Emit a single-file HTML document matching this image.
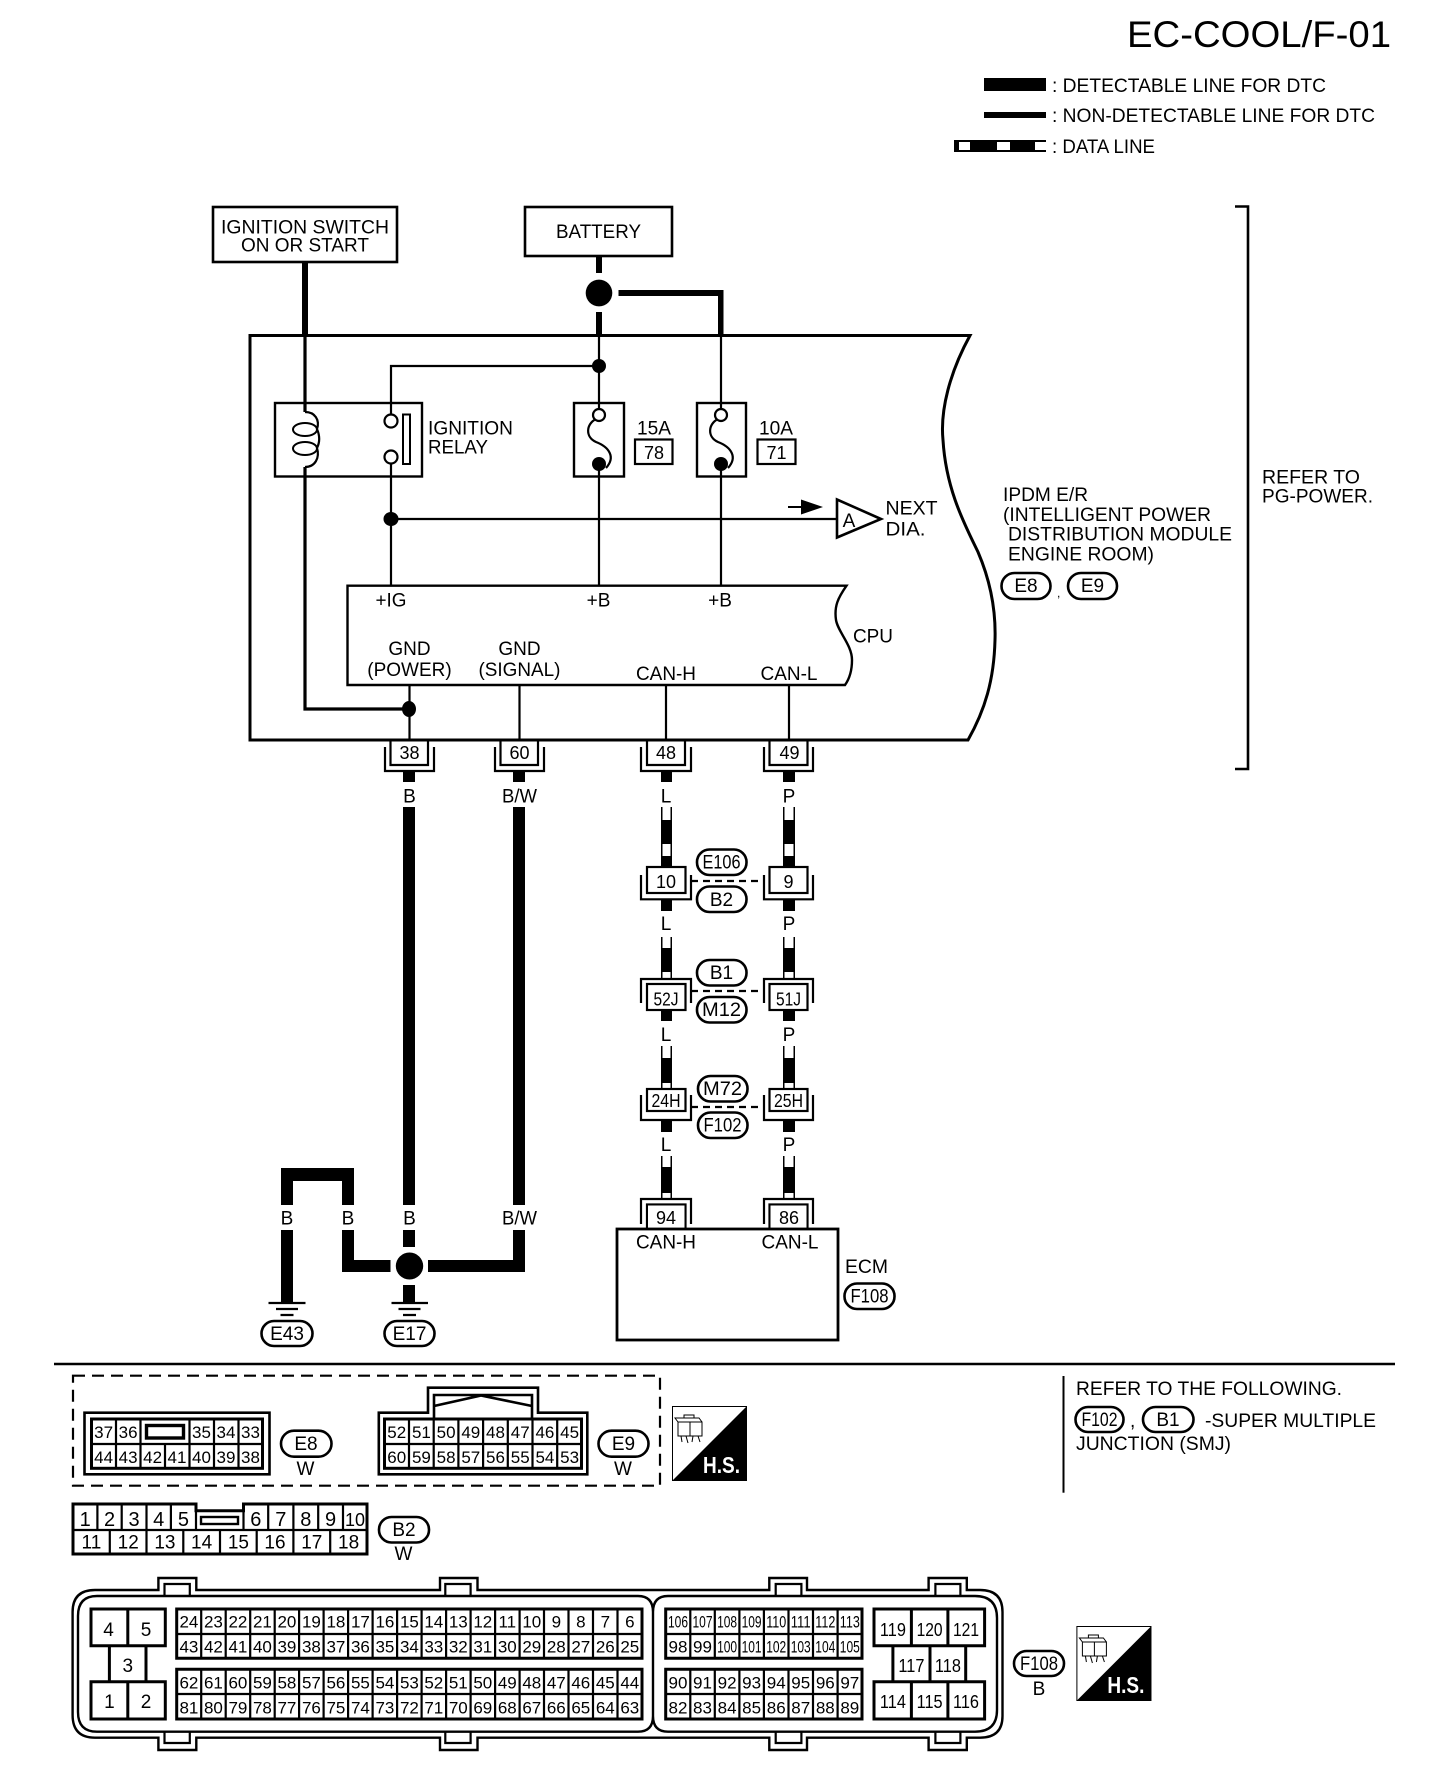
<!DOCTYPE html>
<html><head><meta charset="utf-8"><title>EC-COOL/F-01</title>
<style>
html,body{margin:0;padding:0;background:#fff}
svg{display:block}
text{font-family:"Liberation Sans",sans-serif;font-size:19px;fill:#000;stroke:none}
.m text,text.m{text-anchor:middle}
.g text{text-anchor:middle;font-size:17px}
.l{fill:none;stroke:#000;stroke-width:2.2}
.b{fill:#000;stroke:none}
.w{fill:#fff;stroke:none}
.o{fill:#fff;stroke:#000;stroke-width:2.6}
.d{fill:none;stroke:#000;stroke-width:2.2;stroke-dasharray:7 5}
.c{fill:#fff;stroke:#000;stroke-width:2.2}
</style></head><body>
<svg xmlns="http://www.w3.org/2000/svg" xmlns:xlink="http://www.w3.org/1999/xlink" width="1440" height="1784" viewBox="0 0 1440 1784">
<rect width="1440" height="1784" fill="#fff"/>
<defs>
<g id="hs">
<rect x="672.5" y="1406.5" width="74" height="74" fill="#fff" stroke="#000" stroke-width="1"/>
<path class="b" d="M747 1406V1481H672Z"/>
<path d="M678 1422h24v14h-24zM678 1422l-3-4h24l3 4M684 1418v-3h10v3M690 1422v14M681 1436l1 6M686 1436l2 7M693 1436l-1 6M698 1436l2 6" fill="none" stroke="#000" stroke-width="1"/>
<text x="703" y="1473" textLength="37" lengthAdjust="spacingAndGlyphs" style="font-size:23px;font-weight:bold;fill:#fff">H.S.</text>
</g>
</defs>

<!-- header + legend -->
<text x="1127" y="47" textLength="264" lengthAdjust="spacingAndGlyphs" style="font-size:37px">EC-COOL/F-01</text>
<rect class="b" x="984" y="78" width="62" height="13"/>
<text x="1052" y="92" textLength="274" lengthAdjust="spacingAndGlyphs">: DETECTABLE LINE FOR DTC</text>
<rect class="b" x="984" y="112" width="62" height="6"/>
<text x="1052" y="122" textLength="323" lengthAdjust="spacingAndGlyphs">: NON-DETECTABLE LINE FOR DTC</text>
<rect class="b" x="954" y="140" width="92" height="12"/>
<rect class="w" x="959" y="142" width="11" height="8"/><rect class="w" x="997" y="142" width="13" height="8"/><rect class="w" x="1035" y="142" width="11" height="8"/>
<text x="1052" y="153" textLength="103" lengthAdjust="spacingAndGlyphs">: DATA LINE</text>

<!-- top boxes -->
<rect x="213" y="207" width="184" height="55" fill="#fff" stroke="#000" stroke-width="2.6"/>
<g class="m"><text x="305" y="233.500" textLength="168" lengthAdjust="spacingAndGlyphs">IGNITION SWITCH</text><text x="305" y="251.500" textLength="128" lengthAdjust="spacingAndGlyphs">ON OR START</text></g>
<rect x="525" y="207" width="147" height="49" fill="#fff" stroke="#000" stroke-width="2.6"/>
<text class="m" x="598.500" y="238" textLength="85" lengthAdjust="spacingAndGlyphs">BATTERY</text>

<!-- IPDM module -->
<path d="M250 335.500H970C950 372 940 410 943 440C946 490 965 525 978 552C990 580 996 610 995 640C994 680 985 710 968 740H250Z" fill="#fff" stroke="#000" stroke-width="3"/>

<!-- thick top wires -->
<path class="b" d="M302 262h6v73h-6zM596 256h6v17h-6zM596 312h6v24h-6zM618.500 290H723.500V335H718V296H618.500Z"/>
<ellipse class="b" cx="599" cy="293" rx="13.300" ry="13.400"/>

<!-- thin internal -->
<path class="l" d="M391 414V366H599M599 335V409M599 470V586M721 335V409M721 470V586M391 463V586M391 519H837"/>
<path fill="none" stroke="#000" stroke-width="3.200" d="M305 335V412M305 467V709H409"/>
<ellipse class="b" cx="409" cy="709" rx="7" ry="8"/>
<circle class="b" cx="599" cy="366" r="7"/>
<ellipse class="b" cx="391" cy="519" rx="7.500" ry="7"/>

<!-- relay -->
<rect x="275" y="403" width="147" height="73.500" fill="none" stroke="#000" stroke-width="2.400"/>
<rect class="w" x="300" y="414" width="22" height="51"/>
<ellipse cx="305" cy="429.500" rx="12" ry="6.500" fill="none" stroke="#000" stroke-width="2"/>
<ellipse cx="305" cy="448.500" rx="12" ry="6.500" fill="none" stroke="#000" stroke-width="2"/>
<path fill="none" stroke="#000" stroke-width="2.200" d="M305 412C315 412 320 420 317 429C320 436 320 442 317 448C320 458 315 467 305 467"/>
<circle cx="391" cy="421" r="6.500" fill="#fff" stroke="#000" stroke-width="2.200"/>
<circle cx="391" cy="457" r="6.500" fill="#fff" stroke="#000" stroke-width="2.200"/>
<rect x="403" y="414.500" width="7" height="49.500" fill="#fff" stroke="#000" stroke-width="2"/>
<text x="428" y="434.500" textLength="85" lengthAdjust="spacingAndGlyphs">IGNITION</text>
<text x="428" y="453.500" textLength="60" lengthAdjust="spacingAndGlyphs">RELAY</text>

<!-- fuses -->
<rect x="574" y="403" width="50" height="73.500" fill="none" stroke="#000" stroke-width="2.400"/>
<rect x="697" y="403" width="49" height="73.500" fill="none" stroke="#000" stroke-width="2.400"/>
<g fill="none" stroke="#000" stroke-width="2.200">
<path d="M596 419C586 424 585 437 596 442C609 447 616 457 606 468"/>
<path d="M718 419C708 424 707 437 718 442C731 447 738 457 728 468"/>
</g>
<circle cx="599" cy="415" r="6" fill="#fff" stroke="#000" stroke-width="2.200"/>
<circle cx="721" cy="415" r="6" fill="#fff" stroke="#000" stroke-width="2.200"/>
<circle class="b" cx="599" cy="464" r="7"/>
<circle class="b" cx="721" cy="464" r="7"/>
<g class="m"><text x="654" y="434.500" textLength="34" lengthAdjust="spacingAndGlyphs">15A</text><text x="776" y="434.500" textLength="34" lengthAdjust="spacingAndGlyphs">10A</text></g>
<rect x="635" y="439.500" width="37.500" height="24.500" fill="#fff" stroke="#000" stroke-width="2.200"/>
<rect x="757.500" y="439.500" width="38" height="24.500" fill="#fff" stroke="#000" stroke-width="2.200"/>
<g class="m"><text x="654" y="459" style="font-size:18px">78</text><text x="776.500" y="459" style="font-size:18px">71</text></g>

<!-- next dia -->
<path d="M837 499.500V537.500L881 519Z" fill="#fff" stroke="#000" stroke-width="2.600"/>
<text class="m" x="849" y="527">A</text>
<path class="b" d="M788 506h13v-6.500L823 507L801 514.500V508h-13z"/>
<text x="885.500" y="514.500" textLength="52" lengthAdjust="spacingAndGlyphs">NEXT</text>
<text x="885.500" y="535.500" textLength="40" lengthAdjust="spacingAndGlyphs">DIA.</text>

<!-- IPDM text -->
<text x="1003" y="501" textLength="85" lengthAdjust="spacingAndGlyphs">IPDM E/R</text>
<text x="1003" y="521" textLength="208" lengthAdjust="spacingAndGlyphs">(INTELLIGENT POWER</text>
<text x="1008" y="540.500" textLength="224" lengthAdjust="spacingAndGlyphs">DISTRIBUTION MODULE</text>
<text x="1008" y="560.500" textLength="146" lengthAdjust="spacingAndGlyphs">ENGINE ROOM)</text>
<rect class="o" x="1001.500" y="573" width="49" height="26" rx="13"/><text class="m" x="1026" y="592">E8</text>
<text x="1057" y="597" style="font-size:12px">,</text>
<rect class="o" x="1068" y="573" width="49" height="26" rx="13"/><text class="m" x="1092.500" y="592">E9</text>

<!-- bracket -->
<path fill="none" stroke="#000" stroke-width="2.600" d="M1235 206.500H1248V769H1235"/>
<text x="1262" y="483.500" textLength="98" lengthAdjust="spacingAndGlyphs">REFER TO</text>
<text x="1262" y="502.500" textLength="111" lengthAdjust="spacingAndGlyphs">PG-POWER.</text>

<!-- CPU -->
<path d="M347.500 585.700H846.500C838 598 834 606 836 620C838 632 852 645 852 660C852 670 850 678 845 685H347.500Z" fill="#fff" stroke="#000" stroke-width="2.400"/>
<g class="m">
<text x="391" y="606.700" textLength="31" lengthAdjust="spacingAndGlyphs">+IG</text><text x="598.500" y="606.700">+B</text><text x="720" y="606.700">+B</text>
<text x="409.500" y="655">GND</text><text x="409.500" y="676">(POWER)</text>
<text x="519.500" y="655">GND</text><text x="519.500" y="676" textLength="82" lengthAdjust="spacingAndGlyphs">(SIGNAL)</text>
<text x="666" y="680" textLength="60" lengthAdjust="spacingAndGlyphs">CAN-H</text><text x="789" y="680" textLength="57" lengthAdjust="spacingAndGlyphs">CAN-L</text>
</g>
<text x="853" y="642.700" textLength="40" lengthAdjust="spacingAndGlyphs">CPU</text>
<path class="l" d="M409.500 685V740M519.500 685V740M666 685V740M789 685V740"/>

<!-- connectors at module bottom -->
<g class="l">
<path d="M390.500 740V765H428V740M385 747V771H434V747"/>
<path d="M500.500 740V765H538V740M495 747V771H544V747"/>
<path d="M647 740V765H685V740M641 747V771H691V747"/>
<path d="M769.500 740V765H807.500V740M764 747V771H813V747"/>
</g>
<g class="m">
<text x="409.500" y="759" style="font-size:18px">38</text><text x="519.500" y="759" style="font-size:18px">60</text><text x="666" y="759" style="font-size:18px">48</text><text x="789.500" y="759" style="font-size:18px">49</text>
</g>

<!-- B, B/W wires -->
<path class="b" d="M403 771h12v11h-12zM513 771h12v11h-12zM403 807h12v398h-12zM513 807h12v398h-12zM403 1230h12v17h-12zM513 1230H525V1272H428V1260H513zM342 1168H354V1205H342zM281 1168H354V1181H281zM281 1181h12v24h-12zM281 1230h12v73h-12zM342 1230H354V1260H390.500V1272H342zM403 1285h12v18h-12z"/>
<ellipse class="b" cx="409.500" cy="1266" rx="13.700" ry="13.500"/>
<g class="m">
<text x="409.500" y="802.500">B</text><text x="519.500" y="802.500" textLength="35" lengthAdjust="spacingAndGlyphs">B/W</text>
<text x="287" y="1224.500">B</text><text x="348" y="1224.500">B</text><text x="409.500" y="1224.500">B</text><text x="519.500" y="1224.500" textLength="35" lengthAdjust="spacingAndGlyphs">B/W</text>
</g>
<!-- grounds -->
<path fill="none" stroke="#000" stroke-width="2.200" d="M268.500 1303H305.500M276 1309H298M280.500 1315H293.500M391.500 1303H428M398.500 1309H420.500M403 1315H416"/>
<rect class="o" x="261.500" y="1321" width="51" height="25" rx="12.500"/><text class="m" x="287" y="1340">E43</text>
<rect class="o" x="384.500" y="1321" width="50" height="25" rx="12.500"/><text class="m" x="409.500" y="1340">E17</text>

<!-- CAN data wires -->
<g class="b">
<rect x="661" y="771" width="11" height="11"/><rect x="783" y="771" width="12" height="11"/>
<rect x="661" y="807" width="11" height="60"/><rect x="783" y="807" width="12" height="60"/>
<rect x="661" y="899" width="11" height="12"/><rect x="783" y="899" width="12" height="12"/>
<rect x="661" y="937" width="11" height="42"/><rect x="783" y="937" width="12" height="42"/>
<rect x="661" y="1010" width="11" height="11"/><rect x="783" y="1010" width="12" height="11"/>
<rect x="661" y="1046" width="11" height="43"/><rect x="783" y="1046" width="12" height="43"/>
<rect x="661" y="1120" width="11" height="12"/><rect x="783" y="1120" width="12" height="12"/>
<rect x="661" y="1156" width="11" height="43"/><rect x="783" y="1156" width="12" height="43"/>
</g>
<g class="w">
<rect x="662.500" y="807" width="8" height="13"/><rect x="784.500" y="807" width="9" height="13"/>
<rect x="662.500" y="844" width="8" height="12"/><rect x="784.500" y="844" width="9" height="12"/>
<rect x="662.500" y="937" width="8" height="11"/><rect x="784.500" y="937" width="9" height="11"/>
<rect x="662.500" y="972" width="8" height="7"/><rect x="784.500" y="972" width="9" height="7"/>
<rect x="662.500" y="1046" width="8" height="12"/><rect x="784.500" y="1046" width="9" height="12"/>
<rect x="662.500" y="1083" width="8" height="6"/><rect x="784.500" y="1083" width="9" height="6"/>
<rect x="662.500" y="1156" width="8" height="11"/><rect x="784.500" y="1156" width="9" height="11"/>
<rect x="662.500" y="1193" width="8" height="6"/><rect x="784.500" y="1193" width="9" height="6"/>
</g>
<g class="m">
<text x="666" y="802.500">L</text><text x="789" y="802.500">P</text>
<text x="666" y="930">L</text><text x="789" y="930">P</text>
<text x="666" y="1041">L</text><text x="789" y="1041">P</text>
<text x="666" y="1151">L</text><text x="789" y="1151">P</text>
</g>

<!-- in-line connectors row 1 -->
<path class="l" d="M641 875V899.300H691V875M764 875V899.300H813V875"/>
<rect class="c" x="647" y="867" width="38.500" height="26"/><rect class="c" x="769.500" y="867" width="38" height="26"/>
<text class="m" x="666" y="888" style="font-size:18px">10</text><text class="m" x="788.500" y="888" style="font-size:18px">9</text>
<path class="d" d="M691 881H764"/>
<rect class="o" x="697" y="849.500" width="49.500" height="25.500" rx="12.500"/><text class="m" x="721.500" y="868.500" textLength="38" lengthAdjust="spacingAndGlyphs">E106</text>
<rect class="o" x="697" y="886.500" width="49.500" height="25.500" rx="12.500"/><text class="m" x="721.500" y="906">B2</text>

<!-- row 2 -->
<path class="l" d="M641 1003V979H691V1003M764 1003V979H813V1003"/>
<rect class="c" x="647" y="984" width="38.500" height="26"/><rect class="c" x="769.500" y="984" width="38" height="26"/>
<text class="m" x="666" y="1005.500" textLength="25" lengthAdjust="spacingAndGlyphs" style="font-size:18px">52J</text><text class="m" x="788.500" y="1005.500" textLength="25" lengthAdjust="spacingAndGlyphs" style="font-size:18px">51J</text>
<path class="d" d="M691 991H764"/>
<rect class="o" x="697" y="960" width="49.500" height="25.500" rx="12.500"/><text class="m" x="721.500" y="979">B1</text>
<rect class="o" x="697" y="997" width="49.500" height="25.500" rx="12.500"/><text class="m" x="721.500" y="1016" textLength="39" lengthAdjust="spacingAndGlyphs">M12</text>

<!-- row 3 -->
<path class="l" d="M641 1095V1120H691V1095M764 1095V1120H813V1095"/>
<rect class="c" x="647" y="1089" width="38.500" height="22"/><rect class="c" x="769.500" y="1089" width="38" height="22"/>
<text class="m" x="666" y="1107" textLength="29" lengthAdjust="spacingAndGlyphs" style="font-size:18px">24H</text><text class="m" x="788.500" y="1107" textLength="29" lengthAdjust="spacingAndGlyphs" style="font-size:18px">25H</text>
<path class="d" d="M691 1107H764"/>
<rect class="o" x="698" y="1076" width="49.500" height="25.500" rx="12.500"/><text class="m" x="722.500" y="1095" textLength="39" lengthAdjust="spacingAndGlyphs">M72</text>
<rect class="o" x="698" y="1112.500" width="49.500" height="25.500" rx="12.500"/><text class="m" x="722.500" y="1131.500" textLength="38" lengthAdjust="spacingAndGlyphs">F102</text>

<!-- ECM -->
<path class="l" d="M641 1224V1199H691V1224M764 1224V1199H813V1224M647 1229V1204.500H685.500V1229M769.500 1229V1204.500H807.500V1229"/>
<rect class="w" x="648" y="1205.500" width="36.500" height="23"/><rect class="w" x="770.500" y="1205.500" width="36" height="23"/>
<text class="m" x="666" y="1224" style="font-size:18px">94</text><text class="m" x="789" y="1224" style="font-size:18px">86</text>
<rect x="617" y="1229" width="221" height="111" fill="#fff" stroke="#000" stroke-width="2.800"/>
<g class="m"><text x="666" y="1248.500" textLength="60" lengthAdjust="spacingAndGlyphs">CAN-H</text><text x="790" y="1248.500" textLength="57" lengthAdjust="spacingAndGlyphs">CAN-L</text></g>
<text x="845" y="1273" textLength="43" lengthAdjust="spacingAndGlyphs">ECM</text>
<rect class="o" x="844.500" y="1283.500" width="50" height="25.500" rx="12.500"/><text class="m" x="869.500" y="1302.500" textLength="38" lengthAdjust="spacingAndGlyphs">F108</text>

<!-- separator -->
<path stroke="#000" stroke-width="2.400" fill="none" d="M54 1364H1395"/>
<rect x="73" y="1375.700" width="587" height="110" fill="none" stroke="#000" stroke-width="2.200" stroke-dasharray="12 7"/>

<!-- E8 -->
<rect x="84.500" y="1412.700" width="185" height="61.600" fill="#fff" stroke="#000" stroke-width="2.600"/>
<rect x="91.500" y="1419" width="171" height="49.300" fill="#fff" stroke="#000" stroke-width="3"/>
<path class="l" d="M91.500 1444H262.500M116 1419V1468M140.500 1419V1468M165 1444V1468M189.500 1419V1468M214 1419V1468M238.500 1419V1468"/>
<rect x="146.500" y="1425.500" width="37" height="12.500" fill="#fff" stroke="#000" stroke-width="3.400"/>
<g class="g" transform="translate(0,1438)"><text x="103.600">37</text><text x="128.100">36</text><text x="201.500">35</text><text x="226">34</text><text x="250.500">33</text></g>
<g class="g" transform="translate(0,1463)"><text x="103.600">44</text><text x="128.100">43</text><text x="152.600">42</text><text x="177">41</text><text x="201.500">40</text><text x="226">39</text><text x="250.500">38</text></g>
<rect class="o" x="281" y="1430.700" width="50.500" height="26" rx="13"/><text class="m" x="306" y="1450">E8</text>
<text class="m" x="305.500" y="1475">W</text>

<!-- E9 -->
<path d="M378.800 1412.700H428V1387.700H538V1412.700H587.300V1474.300H378.800Z" fill="#fff" stroke="#000" stroke-width="2.600"/>
<path fill="none" stroke="#000" stroke-width="2.600" d="M434 1419V1395H532V1419M434 1406L481 1395.500L532 1406"/>
<rect x="384.500" y="1419" width="197" height="49.300" fill="#fff" stroke="#000" stroke-width="3"/>
<path class="l" d="M384.500 1444H581.500M409 1419V1468M433.700 1419V1468M458.400 1419V1468M483.100 1419V1468M507.800 1419V1468M532.500 1419V1468M557.200 1419V1468"/>
<g class="g" transform="translate(0,1438)"><text x="396.700">52</text><text x="421.400">51</text><text x="446.100">50</text><text x="470.800">49</text><text x="495.500">48</text><text x="520.200">47</text><text x="544.900">46</text><text x="569.600">45</text></g>
<g class="g" transform="translate(0,1463)"><text x="396.700">60</text><text x="421.400">59</text><text x="446.100">58</text><text x="470.800">57</text><text x="495.500">56</text><text x="520.200">55</text><text x="544.900">54</text><text x="569.600">53</text></g>
<rect class="o" x="598.500" y="1430.700" width="50" height="26" rx="13"/><text class="m" x="623.500" y="1450">E9</text>
<text class="m" x="623" y="1475">W</text>
<use xlink:href="#hs" href="#hs"/>

<!-- right note -->
<path fill="none" stroke="#000" stroke-width="2" d="M1063.500 1376V1492.700"/>
<text x="1076" y="1395" textLength="266" lengthAdjust="spacingAndGlyphs">REFER TO THE FOLLOWING.</text>
<rect class="o" x="1075.500" y="1407" width="48" height="25" rx="12.500"/><text class="m" x="1099.500" y="1426" textLength="36" lengthAdjust="spacingAndGlyphs">F102</text>
<text x="1130" y="1427">,</text>
<rect class="o" x="1143" y="1407" width="50.500" height="25" rx="12.500"/><text class="m" x="1168" y="1426">B1</text>
<text x="1205" y="1427" textLength="171" lengthAdjust="spacingAndGlyphs">-SUPER MULTIPLE</text>
<text x="1076" y="1450" textLength="155" lengthAdjust="spacingAndGlyphs">JUNCTION (SMJ)</text>

<!-- B2 -->
<path d="M73 1504H196V1510.700H243.500V1504H367V1554H73Z" fill="#fff" stroke="#000" stroke-width="3"/>
<path class="l" d="M73 1530H367M97.400 1504V1530M121.700 1504V1530M146.500 1504V1530M170.900 1504V1530M196 1504V1530M243.500 1504V1530M268.200 1504V1530M293.400 1504V1530M318.200 1504V1530M343 1504V1530M109.800 1530V1554M146.500 1530V1554M183.300 1530V1554M220 1530V1554M256.700 1530V1554M293.400 1530V1554M330.200 1530V1554"/>
<rect x="201" y="1517" width="37" height="7" fill="#fff" stroke="#000" stroke-width="2.400"/>
<g class="m" transform="translate(0,1526)"><text x="85.200" style="font-size:20px">1</text><text x="109.500" style="font-size:20px">2</text><text x="134" style="font-size:20px">3</text><text x="158.700" style="font-size:20px">4</text><text x="183.400" style="font-size:20px">5</text><text x="255.800" style="font-size:20px">6</text><text x="280.800" style="font-size:20px">7</text><text x="305.800" style="font-size:20px">8</text><text x="330.600" style="font-size:20px">9</text><text x="355" style="font-size:18px">10</text></g>
<g class="m" transform="translate(0,1548.500)"><text x="91.400">11</text><text x="128.200">12</text><text x="164.900">13</text><text x="201.600">14</text><text x="238.400">15</text><text x="275">16</text><text x="311.800">17</text><text x="348.600">18</text></g>
<rect class="o" x="379" y="1517" width="50" height="25.500" rx="12.500"/><text class="m" x="404" y="1536">B2</text>
<text class="m" x="403.500" y="1560">W</text>

<!-- ECM connector -->
<path d="M95 1590H158.400V1578H196.300V1590H440V1578H477.500V1590H769.300V1578H807V1590H928.600V1578H966.800V1590H980Q1002.500 1590 1002.500 1612V1716Q1002.500 1737.700 980 1737.700H966.800V1750H928.600V1737.700H807V1750H769.300V1737.700H477.500V1750H440V1737.700H196.300V1750H158.400V1737.700H95Q72.600 1737.700 72.600 1715V1612Q72.600 1590 95 1590Z" fill="#fff" stroke="#000" stroke-width="2.400"/>
<path fill="none" stroke="#000" stroke-width="2.400" d="M97 1596H638Q653 1596 653 1612V1716Q653 1731.700 638 1731.700H97Q78 1731.700 78 1712V1616Q78 1596 97 1596ZM668 1596H975Q997 1596 997 1618V1710Q997 1731.700 975 1731.700H668Q653 1731.700 653 1716V1612Q653 1596 668 1596Z"/>
<path fill="none" stroke="#000" stroke-width="2.200" d="M164.500 1596V1584H189.800V1596M445.300 1596V1584H470.600V1596M775.700 1596V1584H801.400V1596M935.400 1596V1584H960.400V1596M164.500 1731.700V1743H189.800V1731.700M445.300 1731.700V1743H470.600V1731.700M775.700 1731.700V1743H801.400V1731.700M935.400 1731.700V1743H960.400V1731.700"/>

<!-- left blocks -->
<path fill="none" stroke="#000" stroke-width="3" d="M91 1609H165.300V1645.700H91ZM127.800 1609V1645.700M109.400 1645.700V1681.700M146 1645.700V1681.700M91 1681.700H165.300V1719H91ZM127.800 1681.700V1719"/>
<g class="m"><text x="108.600" y="1636">4</text><text x="146" y="1636">5</text><text x="127.800" y="1672">3</text><text x="109.400" y="1708">1</text><text x="146" y="1708">2</text></g>

<!-- grid A -->
<path fill="none" stroke="#000" stroke-width="3" d="M176.700 1609H642V1658.300H176.700ZM176.700 1669.300H642V1719H176.700Z"/>
<path class="l" d="M176.700 1634H642M176.700 1694H642M201.200 1609V1658M225.700 1609V1658M250.200 1609V1658M274.700 1609V1658M299.100 1609V1658M323.600 1609V1658M348.100 1609V1658M372.600 1609V1658M397.100 1609V1658M421.600 1609V1658M446.100 1609V1658M470.600 1609V1658M495.100 1609V1658M519.600 1609V1658M544 1609V1658M568.500 1609V1658M593 1609V1658M617.500 1609V1658M201.200 1669V1719M225.700 1669V1719M250.200 1669V1719M274.700 1669V1719M299.100 1669V1719M323.600 1669V1719M348.100 1669V1719M372.600 1669V1719M397.100 1669V1719M421.600 1669V1719M446.100 1669V1719M470.600 1669V1719M495.100 1669V1719M519.600 1669V1719M544 1669V1719M568.500 1669V1719M593 1669V1719M617.500 1669V1719"/>
<g class="g" transform="translate(0,1627.500)"><text x="188.900">24</text><text x="213.400">23</text><text x="237.900">22</text><text x="262.400">21</text><text x="286.900">20</text><text x="311.400">19</text><text x="335.900">18</text><text x="360.400">17</text><text x="384.900">16</text><text x="409.400">15</text><text x="433.800">14</text><text x="458.300">13</text><text x="482.800">12</text><text x="507.300">11</text><text x="531.800">10</text><text x="556.300">9</text><text x="580.800">8</text><text x="605.300">7</text><text x="629.800">6</text></g>
<g class="g" transform="translate(0,1652.500)"><text x="188.900">43</text><text x="213.400">42</text><text x="237.900">41</text><text x="262.400">40</text><text x="286.900">39</text><text x="311.400">38</text><text x="335.900">37</text><text x="360.400">36</text><text x="384.900">35</text><text x="409.400">34</text><text x="433.800">33</text><text x="458.300">32</text><text x="482.800">31</text><text x="507.300">30</text><text x="531.800">29</text><text x="556.300">28</text><text x="580.800">27</text><text x="605.300">26</text><text x="629.800">25</text></g>
<g class="g" transform="translate(0,1688.500)"><text x="188.900">62</text><text x="213.400">61</text><text x="237.900">60</text><text x="262.400">59</text><text x="286.900">58</text><text x="311.400">57</text><text x="335.900">56</text><text x="360.400">55</text><text x="384.900">54</text><text x="409.400">53</text><text x="433.800">52</text><text x="458.300">51</text><text x="482.800">50</text><text x="507.300">49</text><text x="531.800">48</text><text x="556.300">47</text><text x="580.800">46</text><text x="605.300">45</text><text x="629.800">44</text></g>
<g class="g" transform="translate(0,1713.500)"><text x="188.900">81</text><text x="213.400">80</text><text x="237.900">79</text><text x="262.400">78</text><text x="286.900">77</text><text x="311.400">76</text><text x="335.900">75</text><text x="360.400">74</text><text x="384.900">73</text><text x="409.400">72</text><text x="433.800">71</text><text x="458.300">70</text><text x="482.800">69</text><text x="507.300">68</text><text x="531.800">67</text><text x="556.300">66</text><text x="580.800">65</text><text x="605.300">64</text><text x="629.800">63</text></g>

<!-- grid B -->
<path fill="none" stroke="#000" stroke-width="3" d="M665.700 1609H862V1658.300H665.700ZM665.700 1669.300H862V1719H665.700Z"/>
<path class="l" d="M665.700 1634H862M665.700 1694H862M690.300 1609V1658M714.800 1609V1658M739.400 1609V1658M763.900 1609V1658M788.500 1609V1658M813 1609V1658M837.600 1609V1658M690.300 1669V1719M714.800 1669V1719M739.400 1669V1719M763.900 1669V1719M788.500 1669V1719M813 1669V1719M837.600 1669V1719"/>
<g class="g" transform="translate(0,1627.500)"><text x="678" textLength="20" lengthAdjust="spacingAndGlyphs">106</text><text x="702.500" textLength="20" lengthAdjust="spacingAndGlyphs">107</text><text x="727.100" textLength="20" lengthAdjust="spacingAndGlyphs">108</text><text x="751.600" textLength="20" lengthAdjust="spacingAndGlyphs">109</text><text x="776.200" textLength="20" lengthAdjust="spacingAndGlyphs">110</text><text x="800.700" textLength="20" lengthAdjust="spacingAndGlyphs">111</text><text x="825.300" textLength="20" lengthAdjust="spacingAndGlyphs">112</text><text x="849.800" textLength="20" lengthAdjust="spacingAndGlyphs">113</text></g>
<g class="g" transform="translate(0,1652.500)"><text x="678">98</text><text x="702.500">99</text><text x="727.100" textLength="20" lengthAdjust="spacingAndGlyphs">100</text><text x="751.600" textLength="20" lengthAdjust="spacingAndGlyphs">101</text><text x="776.200" textLength="20" lengthAdjust="spacingAndGlyphs">102</text><text x="800.700" textLength="20" lengthAdjust="spacingAndGlyphs">103</text><text x="825.300" textLength="20" lengthAdjust="spacingAndGlyphs">104</text><text x="849.800" textLength="20" lengthAdjust="spacingAndGlyphs">105</text></g>
<g class="g" transform="translate(0,1688.500)"><text x="678">90</text><text x="702.500">91</text><text x="727.100">92</text><text x="751.600">93</text><text x="776.200">94</text><text x="800.700">95</text><text x="825.300">96</text><text x="849.800">97</text></g>
<g class="g" transform="translate(0,1713.500)"><text x="678">82</text><text x="702.500">83</text><text x="727.100">84</text><text x="751.600">85</text><text x="776.200">86</text><text x="800.700">87</text><text x="825.300">88</text><text x="849.800">89</text></g>

<!-- right blocks -->
<path fill="none" stroke="#000" stroke-width="3" d="M874 1609H984.600V1645.700H874ZM911.400 1609V1645.700M947.900 1609V1645.700M892.900 1645.700V1681.700M930 1645.700V1681.700M965.700 1645.700V1681.700M874 1681.700H984.600V1719H874ZM911.400 1681.700V1719M947.900 1681.700V1719"/>
<g class="m">
<text x="892.900" y="1636" style="font-size:18px" textLength="26" lengthAdjust="spacingAndGlyphs">119</text><text x="929.600" y="1636" style="font-size:18px" textLength="26" lengthAdjust="spacingAndGlyphs">120</text><text x="966" y="1636" style="font-size:18px" textLength="26" lengthAdjust="spacingAndGlyphs">121</text>
<text x="911.400" y="1672" style="font-size:18px" textLength="26" lengthAdjust="spacingAndGlyphs">117</text><text x="947.900" y="1672" style="font-size:18px" textLength="26" lengthAdjust="spacingAndGlyphs">118</text>
<text x="892.900" y="1708" style="font-size:18px" textLength="26" lengthAdjust="spacingAndGlyphs">114</text><text x="929.600" y="1708" style="font-size:18px" textLength="26" lengthAdjust="spacingAndGlyphs">115</text><text x="966" y="1708" style="font-size:18px" textLength="26" lengthAdjust="spacingAndGlyphs">116</text>
</g>
<rect class="o" x="1014" y="1651" width="50" height="25" rx="12.500"/><text class="m" x="1039" y="1670" textLength="38" lengthAdjust="spacingAndGlyphs">F108</text>
<text class="m" x="1039" y="1695">B</text>
<use xlink:href="#hs" href="#hs" transform="translate(404.400,220)"/>
</svg>
</body></html>
